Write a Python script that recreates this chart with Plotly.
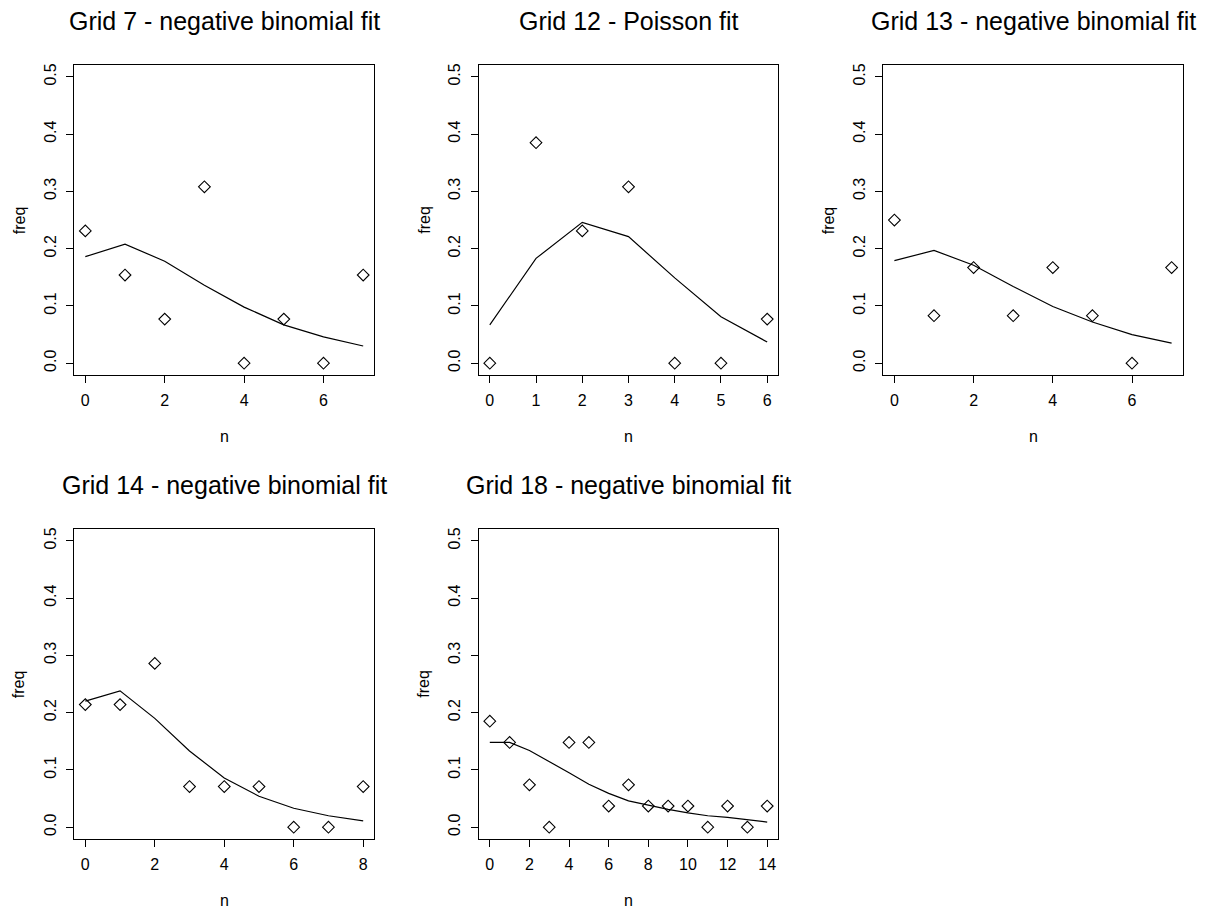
import plotly.graph_objects as go

# ---------------- data ----------------
titles = ["Grid 7 - negative binomial fit", "Grid 12 - Poisson fit",
          "Grid 13 - negative binomial fit", "Grid 14 - negative binomial fit",
          "Grid 18 - negative binomial fit"]

n7 = [0, 1, 2, 3, 4, 5, 6, 7]
obs7 = [0.231, 0.154, 0.077, 0.308, 0.0, 0.077, 0.0, 0.154]
fit7 = [0.186, 0.208, 0.178, 0.136, 0.098, 0.067, 0.046, 0.030]

n12 = [0, 1, 2, 3, 4, 5, 6]
obs12 = [0.0, 0.385, 0.231, 0.308, 0.0, 0.0, 0.077]
fit12 = [0.067, 0.183, 0.246, 0.221, 0.149, 0.081, 0.037]

n13 = [0, 1, 2, 3, 4, 5, 6, 7]
obs13 = [0.250, 0.083, 0.167, 0.083, 0.167, 0.083, 0.0, 0.167]
fit13 = [0.179, 0.197, 0.171, 0.134, 0.099, 0.072, 0.050, 0.035]

n14 = [0, 1, 2, 3, 4, 5, 6, 7, 8]
obs14 = [0.214, 0.214, 0.286, 0.071, 0.071, 0.071, 0.0, 0.0, 0.071]
fit14 = [0.220, 0.238, 0.190, 0.133, 0.086, 0.054, 0.033, 0.020, 0.011]

n18 = list(range(15))
obs18 = [0.185, 0.148, 0.074, 0.0, 0.148, 0.148, 0.037, 0.074, 0.037, 0.037,
         0.037, 0.0, 0.037, 0.0, 0.037]
fit18 = [0.148, 0.148, 0.134, 0.115, 0.095, 0.075, 0.059, 0.046, 0.038, 0.031,
         0.025, 0.020, 0.017, 0.013, 0.009]

xticks = [[0, 2, 4, 6], [0, 1, 2, 3, 4, 5, 6], [0, 2, 4, 6], [0, 2, 4, 6, 8],
          [0, 2, 4, 6, 8, 10, 12, 14]]
yticks = [0.0, 0.1, 0.2, 0.3, 0.4, 0.5]

panels = [(n7, obs7, fit7), (n12, obs12, fit12), (n13, obs13, fit13),
          (n14, obs14, fit14), (n18, obs18, fit18)]

# ---------------- layout geometry (pixels) ----------------
W, H = 1217, 908
col_px = [(74.2, 374.3), (478.7, 778.3), (883.3, 1182.7)]
row_px = [(63.5, 373.5), (528.5, 838.5)]
pos = [(0, 0), (0, 1), (0, 2), (1, 0), (1, 1)]

FONT = "Liberation Sans, Arial, Helvetica, sans-serif"

fig = go.Figure()
annotations = []
for i, ((xs, obs, fit), (r, c)) in enumerate(zip(panels, pos)):
    k = "" if i == 0 else str(i + 1)
    xa, ya = "x" + k, "y" + k
    fig.add_trace(go.Scatter(x=xs, y=obs, mode="markers", xaxis=xa, yaxis=ya,
                             marker=dict(symbol="diamond-open", size=9, color="black",
                                         line=dict(width=1.1, color="black")),
                             showlegend=False, hoverinfo="x+y"))
    fig.add_trace(go.Scatter(x=xs, y=fit, mode="lines", xaxis=xa, yaxis=ya,
                             line=dict(color="black", width=1.2),
                             showlegend=False, hoverinfo="x+y"))
    x0, x1 = col_px[c]
    t0, t1 = row_px[r]
    xmin, xmax = min(xs), max(xs)
    ext = 0.04 * (xmax - xmin)
    axis_common = dict(showline=True, linecolor="black", linewidth=1, mirror=True,
                       ticks="outside", ticklen=7, tickwidth=1, tickcolor="black",
                       showgrid=False, zeroline=False,
                       tickfont=dict(family=FONT, size=16, color="black"))
    fig.update_layout(**{
        ("xaxis" + k): dict(domain=[x0 / W, x1 / W], anchor=ya,
                            range=[xmin - ext, xmax + ext], tickmode="array",
                            tickvals=xticks[i], ticklabelstandoff=4, **axis_common),
        ("yaxis" + k): dict(domain=[1 - t1 / H, 1 - t0 / H], anchor=xa,
                            range=[-0.02, 0.52], tickmode="array", tickvals=yticks,
                            tickformat=".1f", tickangle=-90, ticklabelstandoff=4,
                            **axis_common),
    })
    cx = (x0 + x1) / 2
    annotations.append(dict(text=titles[i], x=cx / W, y=1 - (t0 - 44) / H,
                            xref="paper", yref="paper", showarrow=False,
                            xanchor="center", yanchor="middle",
                            font=dict(family=FONT, size=25, color="black")))
    annotations.append(dict(text="n", x=cx / W, y=1 - (t1 + 62) / H,
                            xref="paper", yref="paper", showarrow=False,
                            xanchor="center", yanchor="middle",
                            font=dict(family=FONT, size=16, color="black")))
    annotations.append(dict(text="freq", x=(x0 - 55) / W, y=1 - ((t0 + t1) / 2) / H,
                            xref="paper", yref="paper", showarrow=False, textangle=-90,
                            xanchor="center", yanchor="middle",
                            font=dict(family=FONT, size=16, color="black")))

fig.update_layout(width=W, height=H, margin=dict(l=0, r=0, t=0, b=0),
                  paper_bgcolor="white", plot_bgcolor="white",
                  annotations=annotations, showlegend=False,
                  font=dict(family=FONT, color="black"))

fig.write_html("out.html")
